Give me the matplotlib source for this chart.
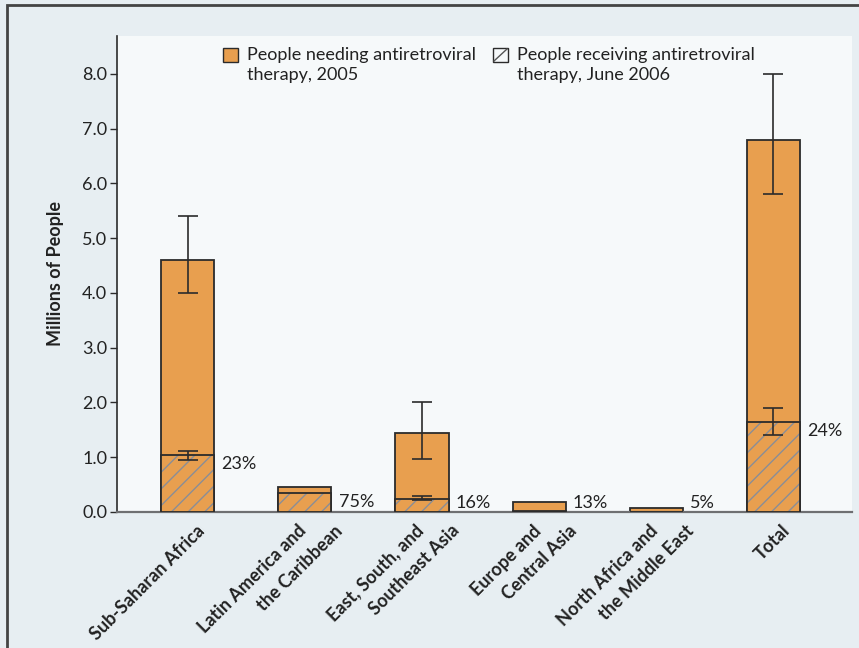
import numpy as np
import matplotlib
matplotlib.use("Agg")
import matplotlib.pyplot as plt
import matplotlib.transforms as mtrans
from matplotlib.patches import Rectangle
from matplotlib.lines import Line2D

plt.rcParams['font.family'] = ['Lato', 'DejaVu Sans']
plt.rcParams['hatch.linewidth'] = 1.0

# data (millions of people)
regions = ['Sub-Saharan Africa', 'Latin America and\nthe Caribbean',
           'East, South, and\nSoutheast Asia', 'Europe and\nCentral Asia',
           'North Africa and\nthe Middle East', 'Total']
needing = [4.6, 0.46, 1.45, 0.19, 0.08, 6.8]
need_lo = [4.0, np.nan, 0.97, np.nan, np.nan, 5.8]
need_hi = [5.4, np.nan, 2.0, np.nan, np.nan, 8.0]
receiving = [1.04, 0.35, 0.24, 0.025, 0.004, 1.65]
recv_lo = [0.95, np.nan, 0.22, np.nan, np.nan, 1.41]
recv_hi = [1.12, np.nan, 0.29, np.nan, np.nan, 1.9]
pct = ['23%', '75%', '16%', '13%', '5%', '24%']
legend_labels = ['People needing antiretroviral\ntherapy, 2005',
                 'People receiving antiretroviral\ntherapy, June 2006']

orange = '#E89F4F'
dark = '#2b2b2b'
txt = '#222222'
hatch_gray = '#8a8d96'
outer_bg = '#e7eef2'
inner_bg = '#f6f9fa'
fs = 13
W, H = 859, 648

fig = plt.figure(figsize=(8.59, 6.48), dpi=100, facecolor=outer_bg)
# frame lines (top and left visible)
fig.patches.append(Rectangle((7/W, -0.1), 1.2, (643/H) + 0.1, transform=fig.transFigure,
                             fill=False, edgecolor='#444444', linewidth=2, zorder=0))

ax = fig.add_axes([117/W, 136/H, 735/W, 476/H], facecolor=inner_bg)
x = np.arange(len(regions))
w = 0.455

ax.bar(x, needing, w, color=orange, edgecolor=dark, linewidth=1.3, zorder=2)
# hatched part (hatch colour follows edgecolor, so outline drawn separately)
ax.bar(x, receiving, w, color=orange, edgecolor=hatch_gray, linewidth=0, hatch='//', zorder=3)
ax.bar(x, receiving, w, fill=False, edgecolor=dark, linewidth=1.3, zorder=4)

need_lo = np.array(need_lo); need_hi = np.array(need_hi)
recv_lo = np.array(recv_lo); recv_hi = np.array(recv_hi)
m = ~np.isnan(need_lo)
ax.errorbar(x[m], np.array(needing)[m],
            yerr=[np.array(needing)[m] - need_lo[m], need_hi[m] - np.array(needing)[m]],
            fmt='none', ecolor=dark, elinewidth=1.2, capsize=7, capthick=1.2, zorder=5)
ax.errorbar(x[m], np.array(receiving)[m],
            yerr=[np.array(receiving)[m] - recv_lo[m], recv_hi[m] - np.array(receiving)[m]],
            fmt='none', ecolor=dark, elinewidth=1.2, capsize=7, capthick=1.2, zorder=5)

for xi, r, p in zip(x, receiving, pct):
    ax.text(xi + w/2 + 0.06, max(r - 0.17, 0.17), p, ha='left', va='center',
            fontsize=fs, color=txt)

ax.set_xlim(-0.603, 5.67)
ax.set_ylim(0, 8.69)
ax.set_yticks(np.arange(0, 9, 1.0))
ax.set_yticklabels(['%.1f' % v for v in np.arange(0, 9, 1.0)], fontsize=fs, color=txt)
ax.set_xticks(x)
ax.set_xticklabels([])
ax.tick_params(axis='x', length=0)
ax.tick_params(axis='y', length=5, width=1, color=dark, pad=2)
ax.set_ylabel('Millions of People', fontsize=fs, fontweight='bold', color=txt, labelpad=13)

# category labels, each line placed on its own (line ends sit level)
for xi, name in zip(x, regions):
    lines = name.split('\n')
    shifts = [8] if len(lines) == 1 else [-7, 29]
    for line, dx in zip(lines, shifts):
        tr = mtrans.offset_copy(ax.get_xaxis_transform(), fig=fig, x=dx, y=-10, units='dots')
        ax.text(xi, 0, line, transform=tr, rotation=45, rotation_mode='anchor',
                ha='right', va='top', fontsize=fs, fontweight='bold', color=txt)

for s in ['top', 'right']:
    ax.spines[s].set_visible(False)
ax.spines['left'].set_color(dark)
ax.spines['left'].set_linewidth(1.2)
ax.spines['bottom'].set_color('#6e6f72')
ax.spines['bottom'].set_linewidth(1.6)

# legend drawn by hand: swatch aligned with first text line
box_x = [223, 493]
for i, (bx, lab) in enumerate(zip(box_x, legend_labels)):
    fc = orange if i == 0 else inner_bg
    fig.patches.append(Rectangle((bx/W, 1 - 62/H), 15/W, 14/H, transform=fig.transFigure,
                                 facecolor=fc, edgecolor=dark, linewidth=1, zorder=5))
    if i == 1:
        fig.lines.append(Line2D([(bx + 1)/W, (bx + 14)/W], [1 - 61/H, 1 - 49/H],
                                transform=fig.transFigure, color='#555555',
                                linewidth=1, zorder=6))
    for j, line in enumerate(lab.split('\n')):
        fig.text((bx + 24)/W, 1 - (55 + 20*j)/H, line, ha='left', va='center',
                 fontsize=fs, color=txt)

fig.savefig('out.png', dpi=100, facecolor=outer_bg)
